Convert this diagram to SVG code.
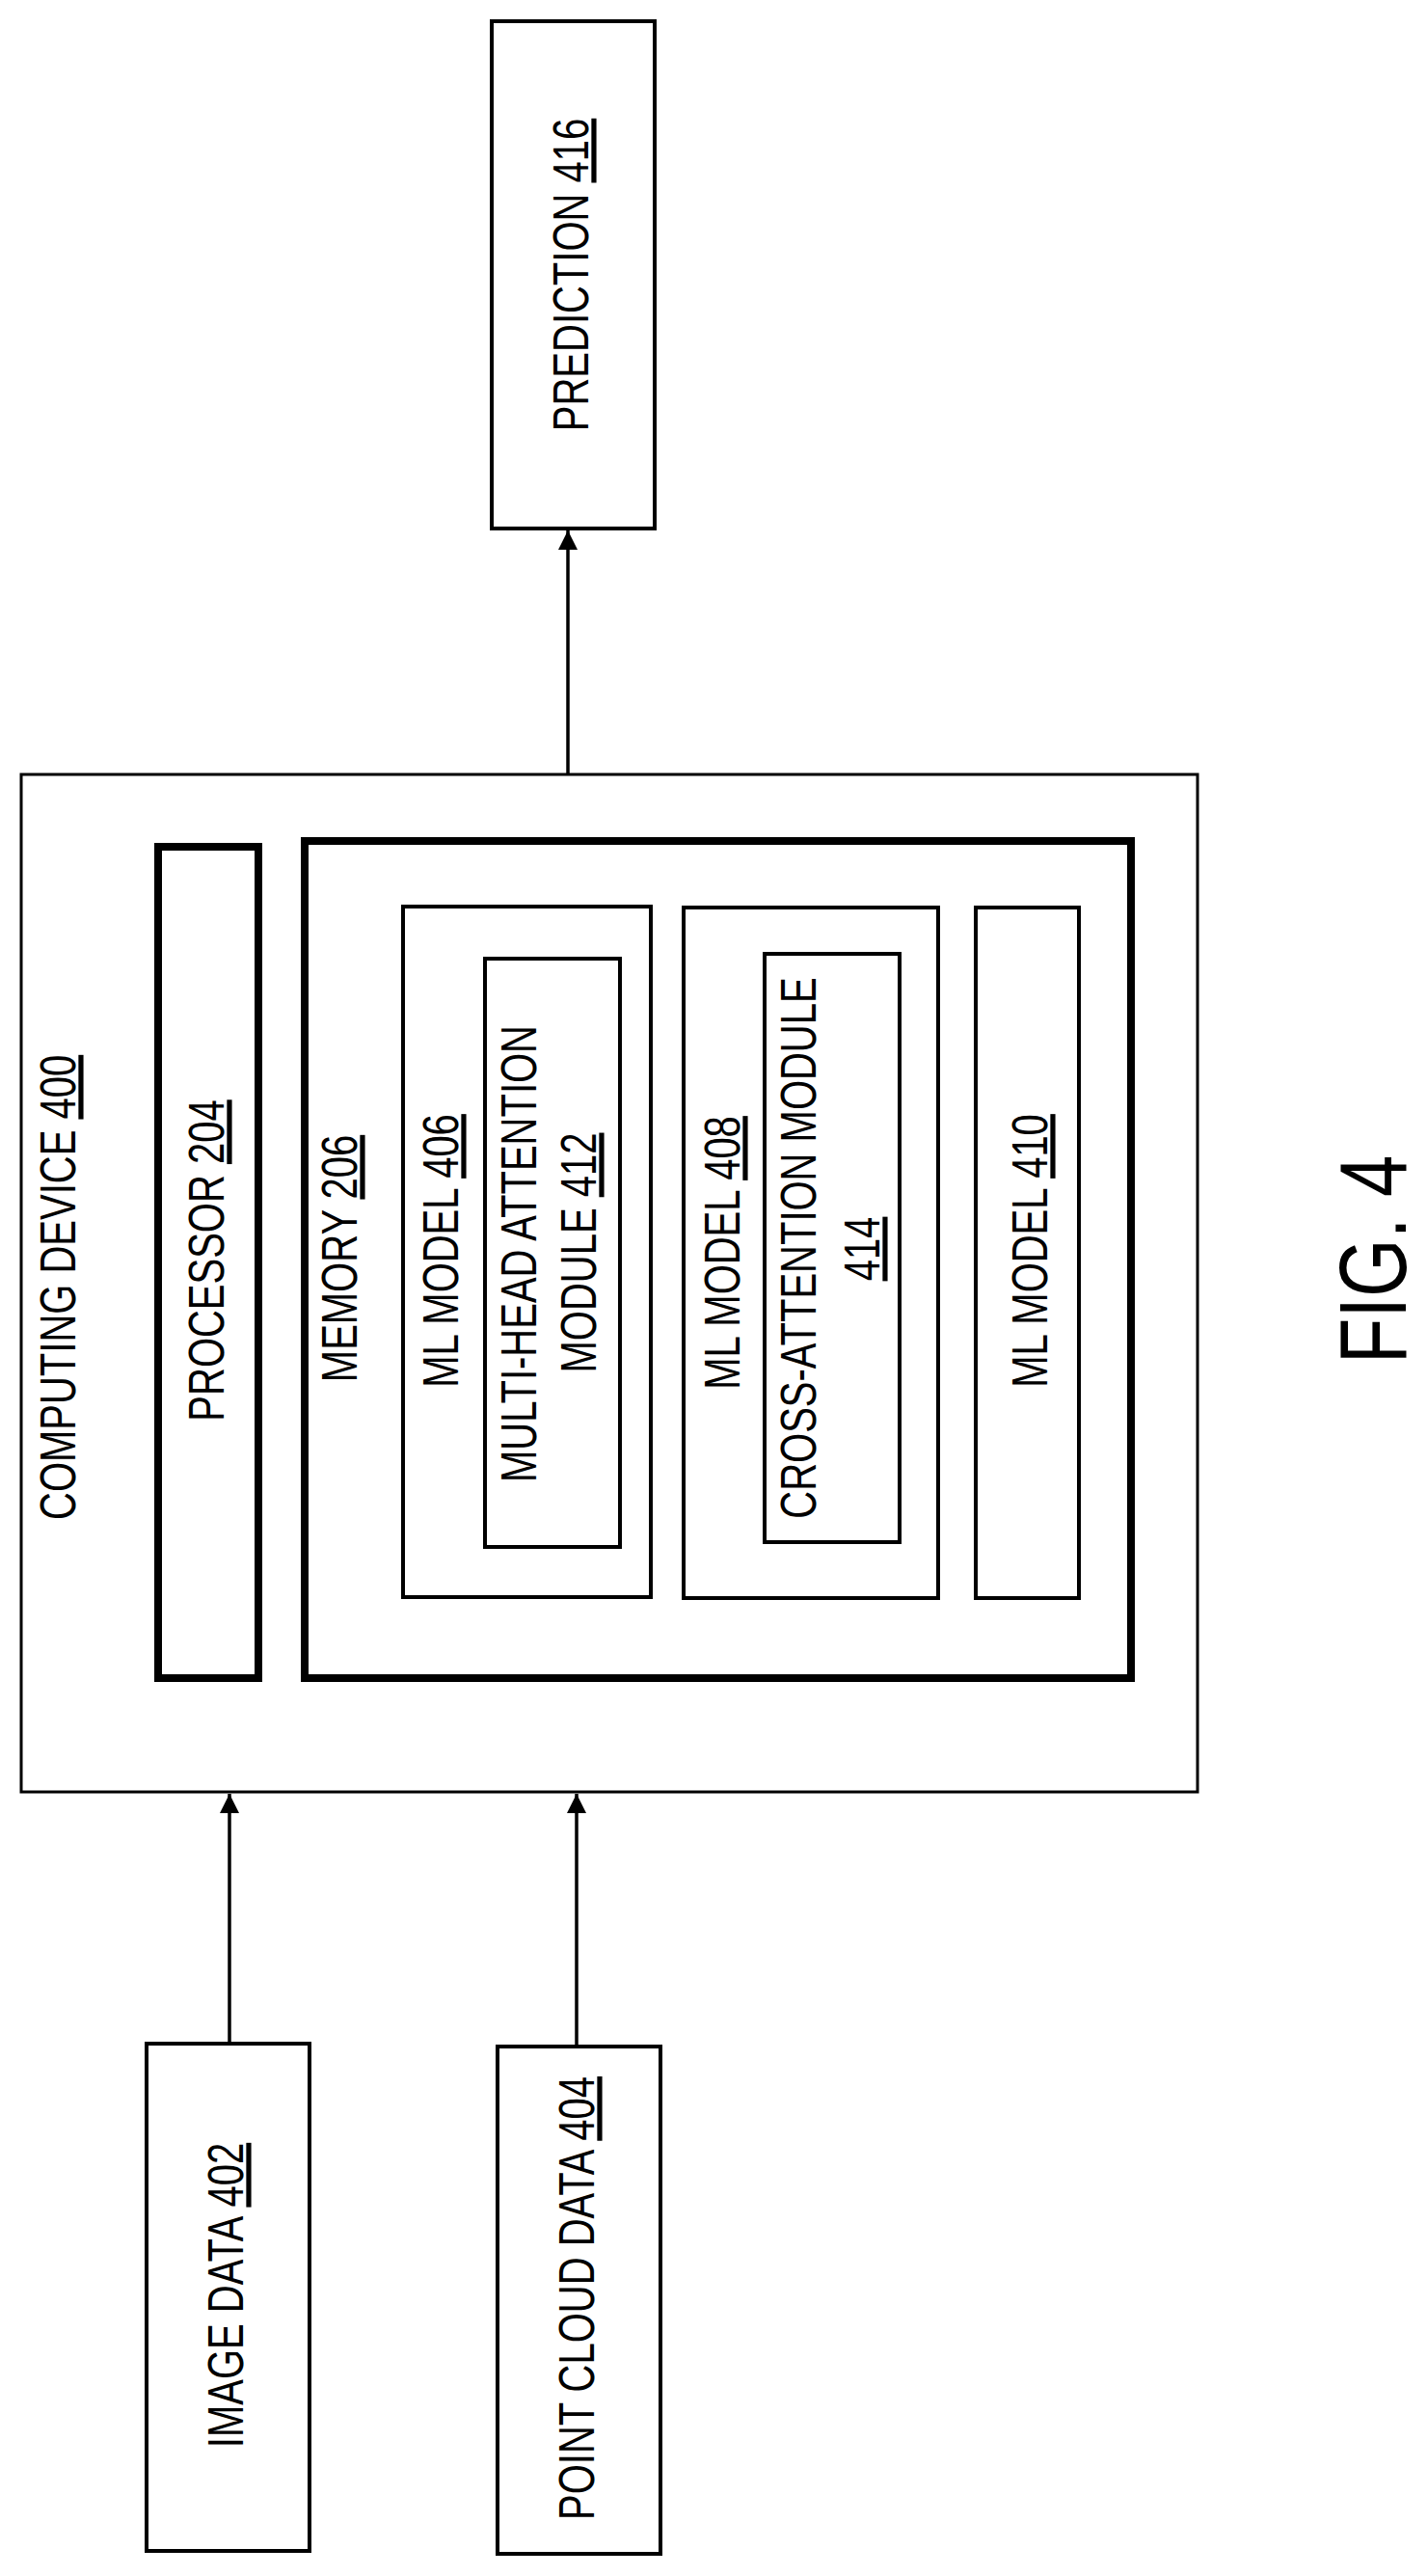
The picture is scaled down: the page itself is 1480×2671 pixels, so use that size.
<svg xmlns="http://www.w3.org/2000/svg" width="1480" height="2671" viewBox="0 0 1480 2671">
<style>
rect{fill:none;stroke:#000}
.thin{stroke-width:3}
.mid{stroke-width:4}
.thick{stroke-width:8}
text{font-family:"Liberation Sans",Arial,sans-serif;font-size:40px;fill:#000;text-anchor:middle}
.u{text-decoration:underline}
.c{stroke:#000;stroke-width:3.5;fill:none}
</style>
<defs>
<marker id="ah" markerUnits="userSpaceOnUse" markerWidth="22" markerHeight="22" refX="20" refY="10" orient="auto">
<path d="M0,0 L20,10 L0,20 Z" fill="#000"/>
</marker>
</defs>
<rect width="1480" height="2671" fill="#fff" stroke="none" style="fill:#fff;stroke:none"/>
<g id="connectors">
<line class="c" x1="589" y1="803" x2="589" y2="550" marker-end="url(#ah)"/>
<line class="c" x1="238" y1="2119" x2="238" y2="1860" marker-end="url(#ah)"/>
<line class="c" x1="598" y1="2122" x2="598" y2="1860" marker-end="url(#ah)"/>
</g>
<g id="prediction416">
<rect class="mid" x="510" y="22" width="169" height="526"/>
<text transform="translate(610,285) rotate(-90) scale(1,1.3)">PREDICTION <tspan class="u">416</tspan></text>
</g>
<g id="computing400">
<rect class="thin" x="22" y="803" width="1220" height="1055"/>
<text transform="translate(78,1576) rotate(-90) scale(1,1.3)" style="text-anchor:start">COMPUTING DEVICE <tspan class="u">400</tspan></text>
</g>
<g id="processor204">
<rect class="thick" x="164" y="878" width="104" height="862"/>
<text transform="translate(232,1307) rotate(-90) scale(1,1.3)">PROCESSOR <tspan class="u">204</tspan></text>
</g>
<g id="memory206">
<rect class="thick" x="316" y="872" width="857" height="868"/>
<text transform="translate(370,1305) rotate(-90) scale(1,1.3)">MEMORY <tspan class="u">206</tspan></text>
</g>
<g id="ml406">
<rect class="mid" x="418" y="940" width="257" height="716"/>
<text transform="translate(475,1297) rotate(-90) scale(1,1.3)">ML MODEL <tspan class="u">406</tspan></text>
</g>
<g id="mha412">
<rect class="mid" x="503" y="994" width="140" height="610"/>
<text transform="translate(556,1300) rotate(-90) scale(1,1.3)">MULTI-HEAD ATTENTION</text>
<text transform="translate(618,1299) rotate(-90) scale(1,1.3)">MODULE <tspan class="u">412</tspan></text>
</g>
<g id="ml408">
<rect class="mid" x="709" y="941" width="264" height="716"/>
<text transform="translate(767,1299) rotate(-90) scale(1,1.3)">ML MODEL <tspan class="u">408</tspan></text>
</g>
<g id="ca414">
<rect class="mid" x="793" y="989" width="140" height="610"/>
<text transform="translate(846,1294) rotate(-90) scale(1,1.3)">CROSS-ATTENTION MODULE</text>
<text transform="translate(912,1295) rotate(-90) scale(1,1.3)"><tspan class="u">414</tspan></text>
</g>
<g id="ml410">
<rect class="mid" x="1012" y="941" width="107" height="716"/>
<text transform="translate(1086,1297) rotate(-90) scale(1,1.3)">ML MODEL <tspan class="u">410</tspan></text>
</g>
<g id="image402">
<rect class="mid" x="152" y="2119" width="169" height="526"/>
<text transform="translate(252,2380) rotate(-90) scale(1,1.3)">IMAGE DATA <tspan class="u">402</tspan></text>
</g>
<g id="pointcloud404">
<rect class="mid" x="516" y="2122" width="169" height="526"/>
<text transform="translate(616,2383) rotate(-90) scale(1,1.3)">POINT CLOUD DATA <tspan class="u">404</tspan></text>
</g>
<g id="figlabel">
<text transform="translate(1458,1306) rotate(-90) scale(1,1.27)" style="font-size:78px">FIG. 4</text>
</g>
</svg>
